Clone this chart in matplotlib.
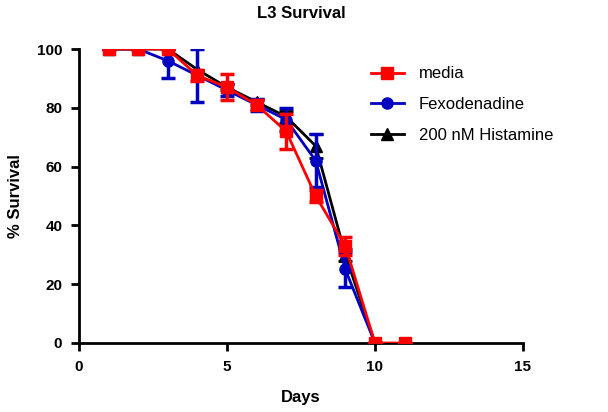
import numpy as np
import matplotlib.pyplot as plt
from matplotlib.lines import Line2D

plt.rcParams['font.family'] = ['Liberation Sans', 'DejaVu Sans']
plt.rcParams['font.weight'] = 'bold'

# data
days_media = [1, 2, 3, 4, 5, 6, 7, 8, 9, 10, 11]
media = [100, 100, 100, 91, 87, 81, 72, 50, 33, 0, 0]
media_err = [0, 0, 0, 2, 4.5, 1.5, 6, 2, 3, 0, 0]

days_fexo = [1, 2, 3, 4, 5, 6, 7, 8, 9, 10]
fexo = [100, 100, 96, 91, 86, 81, 76, 62, 25, 0]
fexo_err = [0, 0, 6, 9, 2, 2, 4, 9, 6, 0]

days_hist = [1, 2, 3, 4, 5, 6, 7, 8, 9, 10]
hist = [100, 100, 100, 93, 87, 82, 77, 67, 30, 0]
hist_err = [0, 0, 0, 0, 1, 1, 2, 4, 2, 0]

fig = plt.figure(figsize=(6.08, 4.12), dpi=100)
ax = fig.add_axes([0.130, 0.1675, 0.730, 0.7135])

ax.errorbar(days_hist, hist, yerr=hist_err, color='black', marker='^', markersize=8,
            linewidth=2, elinewidth=2, capsize=5, capthick=2, zorder=2)
ax.errorbar(days_fexo, fexo, yerr=fexo_err, color='#0000c0', marker='o', markersize=8,
            linewidth=2, elinewidth=2.5, capsize=5, capthick=2.5, zorder=3)
ax.errorbar(days_media, media, yerr=media_err, color='#ff0000', marker='s', markersize=9,
            linewidth=2, elinewidth=2.5, capsize=5, capthick=2.5, zorder=4)

ax.set_xlim(0, 15)
ax.set_ylim(0, 100)
ax.set_xticks([0, 5, 10, 15])
ax.set_yticks([0, 20, 40, 60, 80, 100])
for s in ['top', 'right']:
    ax.spines[s].set_visible(False)
for s in ['left', 'bottom']:
    ax.spines[s].set_linewidth(2)
ax.tick_params(direction='out', length=6, width=2, labelsize=11, pad=6)
for lab in ax.get_xticklabels() + ax.get_yticklabels():
    lab.set_fontweight('bold')
for sp in ax.spines.values():
    sp.set_clip_on(False)

ax.set_xlabel('Days', fontsize=12, fontweight='bold', labelpad=12)
ax.set_ylabel('% Survival', fontsize=12, fontweight='bold', labelpad=10)
fig.suptitle('L3 Survival', x=0.495, y=0.985, fontsize=12, fontweight='bold')

handles = [
    Line2D([], [], color='#ff0000', marker='s', markersize=9, linewidth=2),
    Line2D([], [], color='#0000c0', marker='o', markersize=8, linewidth=2),
    Line2D([], [], color='black', marker='^', markersize=8, linewidth=2),
]
labels = ['media', 'Fexodenadine', '200 nM Histamine']
leg = fig.legend(handles, labels, loc='upper left', bbox_to_anchor=(0.585, 0.875),
                 frameon=False, fontsize=12, handlelength=2.0, labelspacing=0.95,
                 handletextpad=0.9)
for t in leg.get_texts():
    t.set_fontweight('normal')

fig.savefig('out.png', dpi=100)
